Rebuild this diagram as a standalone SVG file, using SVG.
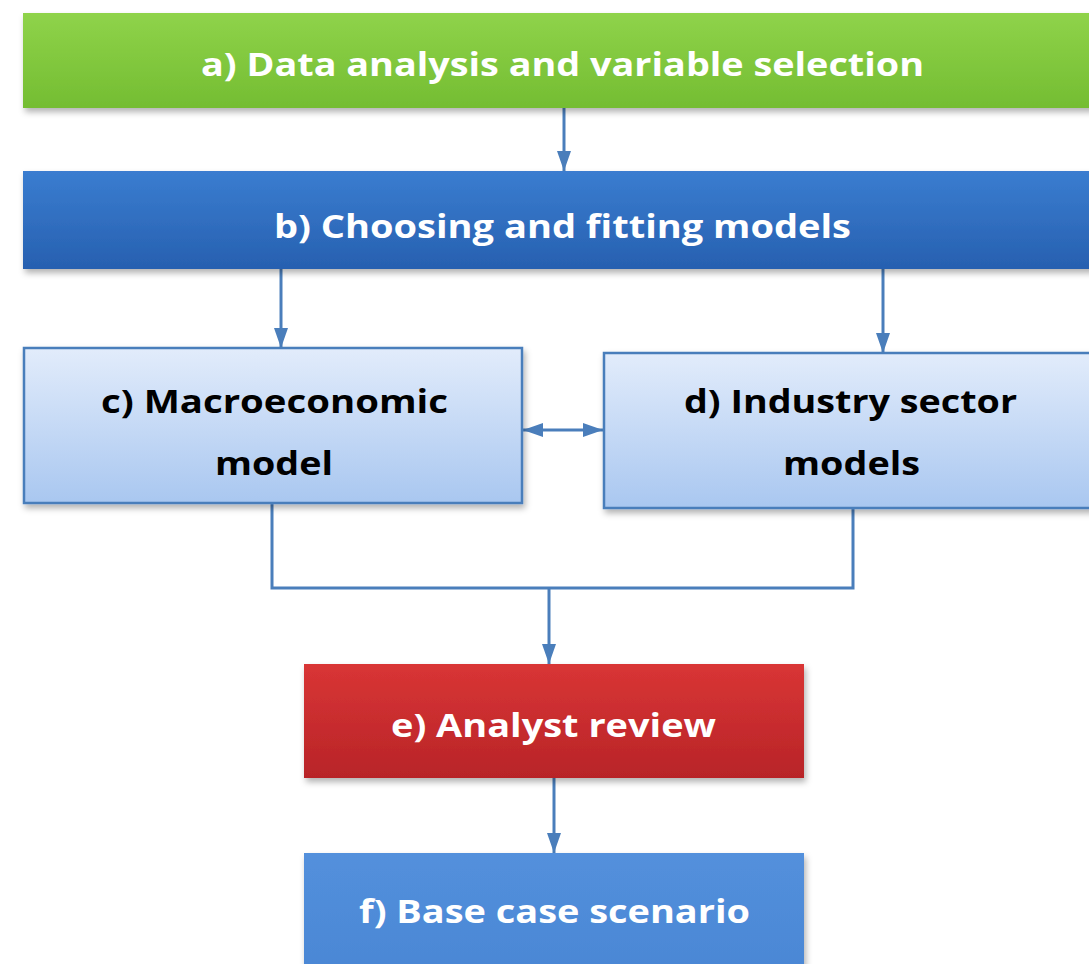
<svg xmlns="http://www.w3.org/2000/svg" width="1089" height="964" viewBox="0 0 1089 964">
  <defs>
    <linearGradient id="gGreen" x1="0" y1="0" x2="0" y2="1">
      <stop offset="0" stop-color="#8fd34a"/>
      <stop offset="1" stop-color="#74bd32"/>
    </linearGradient>
    <linearGradient id="gDark" x1="0" y1="0" x2="0" y2="1">
      <stop offset="0" stop-color="#3a7dd0"/>
      <stop offset="1" stop-color="#2760b0"/>
    </linearGradient>
    <linearGradient id="gLight" x1="0" y1="0" x2="0" y2="1">
      <stop offset="0" stop-color="#e2ecfb"/>
      <stop offset="1" stop-color="#a9c7f0"/>
    </linearGradient>
    <linearGradient id="gRed" x1="0" y1="0" x2="0" y2="1">
      <stop offset="0" stop-color="#d93535"/>
      <stop offset="1" stop-color="#b82428"/>
    </linearGradient>
    <linearGradient id="gMid" x1="0" y1="0" x2="0" y2="1">
      <stop offset="0" stop-color="#5390dc"/>
      <stop offset="1" stop-color="#4a86d4"/>
    </linearGradient>
    <filter id="shadow" x="-5%" y="-10%" width="110%" height="130%">
      <feDropShadow dx="2" dy="4" stdDeviation="3" flood-color="#000" flood-opacity="0.3"/>
    </filter>
    <marker id="arr" viewBox="0 0 20 14" refX="20" refY="7" markerWidth="20" markerHeight="14" markerUnits="userSpaceOnUse" orient="auto-start-reverse">
      <path d="M0,0 L20,7 L0,14 z" fill="#4a7ebb"/>
    </marker>
  </defs>
  <style>
    .lbl { font-family: "Open Sans", "Liberation Sans", sans-serif; font-weight: 700; font-size: 32px; }
    .w { fill: #ffffff; }
    .k { fill: #000000; }
    .con { fill: none; stroke: #4a7ebb; stroke-width: 3; }
    .lb { stroke: #4a7ebb; stroke-width: 2.5; }
  </style>
  <rect width="1089" height="964" fill="#ffffff"/>

  <g id="connectors">
    <line class="con" x1="564" y1="108" x2="564" y2="171" marker-end="url(#arr)"/>
    <line class="con" x1="281" y1="269" x2="281" y2="348" marker-end="url(#arr)"/>
    <line class="con" x1="883" y1="269" x2="883" y2="353" marker-end="url(#arr)"/>
    <line class="con" x1="523" y1="430" x2="603" y2="430" marker-start="url(#arr)" marker-end="url(#arr)"/>
    <polyline class="con" points="272,503 272,588 853,588 853,508"/>
    <line class="con" x1="549" y1="588" x2="549" y2="664" marker-end="url(#arr)"/>
    <line class="con" x1="554" y1="778" x2="554" y2="853" marker-end="url(#arr)"/>
  </g>

  <g id="node-a">
    <rect x="23" y="13" width="1080" height="95" fill="url(#gGreen)" filter="url(#shadow)"/>
    <text class="lbl w" x="201" y="76" textLength="723" lengthAdjust="spacingAndGlyphs">a) Data analysis and variable selection</text>
  </g>

  <g id="node-b">
    <rect x="23" y="171" width="1080" height="98" fill="url(#gDark)" filter="url(#shadow)"/>
    <text class="lbl w" x="274" y="238" textLength="577" lengthAdjust="spacingAndGlyphs">b) Choosing and fitting models</text>
  </g>

  <g id="node-c">
    <rect x="24" y="348" width="498" height="155" fill="url(#gLight)" class="lb" filter="url(#shadow)"/>
    <text class="lbl k" x="101" y="413" textLength="347" lengthAdjust="spacingAndGlyphs">c) Macroeconomic</text>
    <text class="lbl k" x="215" y="475" textLength="118" lengthAdjust="spacingAndGlyphs">model</text>
  </g>

  <g id="node-d">
    <rect x="604" y="353" width="500" height="155" fill="url(#gLight)" class="lb" filter="url(#shadow)"/>
    <text class="lbl k" x="684" y="413" textLength="333" lengthAdjust="spacingAndGlyphs">d) Industry sector</text>
    <text class="lbl k" x="783" y="475" textLength="137" lengthAdjust="spacingAndGlyphs">models</text>
  </g>

  <g id="node-e">
    <rect x="304" y="664" width="500" height="114" fill="url(#gRed)" filter="url(#shadow)"/>
    <text class="lbl w" x="391" y="737" textLength="325" lengthAdjust="spacingAndGlyphs">e) Analyst review</text>
  </g>

  <g id="node-f">
    <rect x="304" y="853" width="500" height="130" fill="url(#gMid)" filter="url(#shadow)"/>
    <text class="lbl w" x="359" y="923" textLength="391" lengthAdjust="spacingAndGlyphs">f) Base case scenario</text>
  </g>
</svg>
